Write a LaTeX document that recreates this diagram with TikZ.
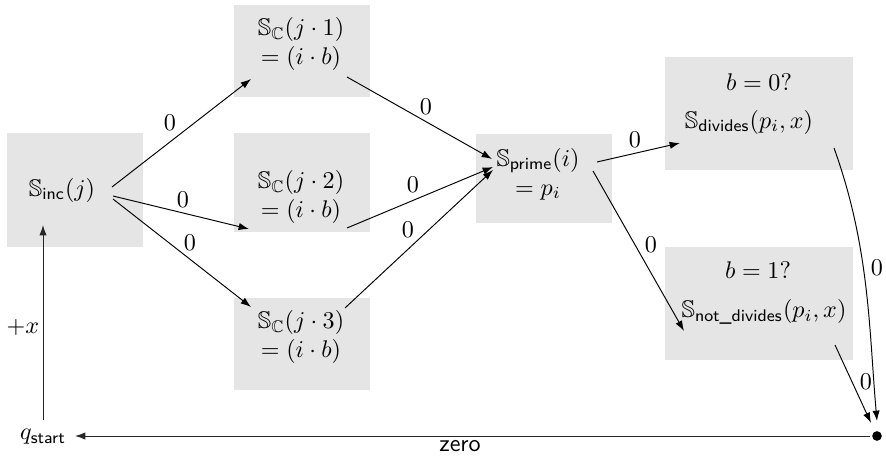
\documentclass[tikz,border=0pt]{standalone}
\usepackage{amsmath,amssymb}
\usetikzlibrary{arrows.meta}
\begin{document}
\begin{tikzpicture}[x=0.415pt,y=-0.415pt,
  box/.style={fill=gray!20, draw=none},
  st/.style={inner sep=0pt, align=center},
  lbl/.style={inner sep=0pt},
  arr/.style={-{Latex[length=4.3pt,width=3pt]}, line width=0.4pt},
  garr/.style={arr, draw=black!85}]
\useasboundingbox (0,0) rectangle (886,457);
% background boxes
\fill[box] (7,133) rectangle (143,247);
\fill[box] (234,5) rectangle (370,97);
\fill[box] (234,133) rectangle (370,232);
\fill[box] (234,298) rectangle (370,390);
\fill[box] (476,134) rectangle (612,223);
\fill[box] (665,57) rectangle (853,170);
\fill[box] (665,247) rectangle (853,360);
% states
\node[st] (inc) at (62,190) {$\mathbb{S}_{\textsf{inc}}(j)$};
\node[st] (c1) at (301,44) {$\mathbb{S}_{\mathbb{C}}(j\cdot 1)$\\$=(i\cdot b)$};
\node[st] (c2) at (301,197) {$\mathbb{S}_{\mathbb{C}}(j\cdot 2)$\\$=(i\cdot b)$};
\node[st] (c3) at (301,337) {$\mathbb{S}_{\mathbb{C}}(j\cdot 3)$\\$=(i\cdot b)$};
\node[st] (prime) at (538,174) {$\mathbb{S}_{\textsf{prime}}(i)$\\$=p_i$};
\node[st] (divq) at (759,82) {$b=0?$};
\node[st] (div) at (749,122) {$\mathbb{S}_{\textsf{divides}}(p_i,x)$};
\node[st] (ndivq) at (758,270) {$b=1?$};
\node[st] (ndiv) at (764,312) {$\mathbb{S}_{\textsf{not\_divides}}(p_i,x)$};
\node[st] (qs) at (43,437) {$q_{\textsf{start}}$};
\node[circle, fill=black, inner sep=0pt, minimum size=4pt] (dot) at (877,436) {};
% connectors
\draw[arr] ([shift={(50,-3)}]inc.center) -- ([shift={(-50,35)}]c1.center);
\draw[arr] ([shift={(51,6)}]inc.center) -- ([shift={(-52,32)}]c2.center);
\draw[arr] ([shift={(51,9)}]inc.center) -- ([shift={(-50,-30)}]c3.center);
\draw[arr] ([shift={(46,33)}]c1.center) -- ([shift={(-46,-15)}]prime.center);
\draw[arr] ([shift={(46,31)}]c2.center) -- ([shift={(-45,-7)}]prime.center);
\draw[arr] ([shift={(44,-29)}]c3.center) -- ([shift={(-45,-4)}]prime.center);
\draw[arr] ([shift={(59,-12)}]prime.center) -- ([shift={(-69,21)}]div.center);
\draw[arr] ([shift={(55,-3)}]prime.center) -- ([shift={(-80,19)}]ndiv.center);
\draw[arr] ([shift={(85,26)}]div.center) .. controls +(36,100) and +(-8,-90) .. ([shift={(0,-15)}]dot.center);
\draw[arr] ([shift={(71,33)}]ndiv.center) -- ([shift={(-6,-13)}]dot.center);
\draw[garr] ([shift={(0,-17)}]qs.center) -- ([shift={(-19,35)}]inc.center);
\draw[garr] ([shift={(-7,0)}]dot.center) -- ([shift={(32,-1)}]qs.center);
% labels
\node[lbl] (l1) at (170,123) {$0$};
\node[lbl] (l2) at (183,200) {$0$};
\node[lbl] (l3) at (190,243) {$0$};
\node[lbl] (l4) at (426,107) {$0$};
\node[lbl] (l5) at (413,185) {$0$};
\node[lbl] (l6) at (408,230) {$0$};
\node[lbl] (l7) at (635,140) {$0$};
\node[lbl] (l8) at (651,245) {$0$};
\node[lbl] (l9) at (877,268) {$0$};
\node[lbl] (l10) at (866,382) {$0$};
\node[lbl] (lx) at (23,327) {$+x$};
\node[lbl] (lz) at (460,446) {\textsf{zero}};
\end{tikzpicture}
\end{document}
